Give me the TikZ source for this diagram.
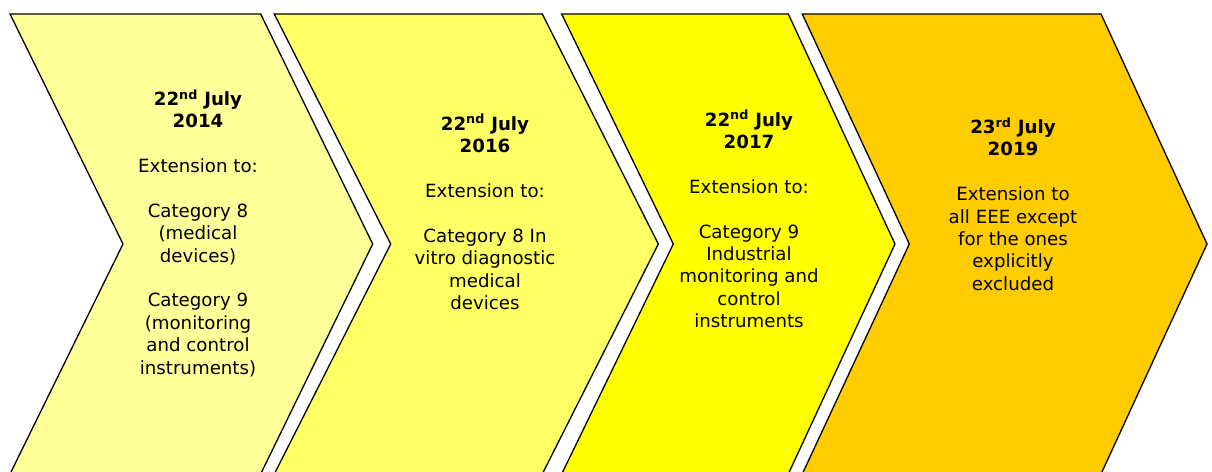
\documentclass[tikz,border=0pt]{standalone}
\usepackage{fontspec}
\setmainfont{DejaVu Sans}
\definecolor{c1}{HTML}{FFFF99}
\definecolor{c2}{HTML}{FFFF66}
\definecolor{c3}{HTML}{FFFF00}
\definecolor{c4}{HTML}{FFCC00}
\tikzset{
  chev/.style={draw=black, line width=1.3pt, line join=miter},
  lbl/.style={align=center, inner sep=0pt, text=black,
    font=\fontsize{18.2}{22.4}\selectfont}
}
\begin{document}
\begin{tikzpicture}[x=1pt,y=-1pt]
\useasboundingbox (0,0) rectangle (1212,471);
\fill[white] (0,0) rectangle (1212,471);
% chevrons
\draw[chev, fill=c1] (10,14) -- (260.7,14) -- (372.7,244) -- (260.7,474) -- (10,474) -- (123,244) -- cycle;
\draw[chev, fill=c2] (274.3,14) -- (542.3,14) -- (658.3,244) -- (542.3,474) -- (274.3,474) -- (390.7,244) -- cycle;
\draw[chev, fill=c3] (561.7,14) -- (788.3,14) -- (895,244) -- (788.3,474) -- (561.7,474) -- (673.3,244) -- cycle;
\draw[chev, fill=c4] (802.3,14) -- (1101,14) -- (1207,244) -- (1101,474) -- (802.3,474) -- (909.3,244) -- cycle;
% texts
\node[lbl] (t1) at (198,233) {\textbf{22\textsuperscript{nd} July}\\\textbf{2014}\\[22.4pt]Extension to:\\[22.4pt]Category 8\\(medical\\devices)\\[22.4pt]Category 9\\(monitoring\\and control\\instruments)};
\node[lbl] (t2) at (485,212) {\textbf{22\textsuperscript{nd} July}\\\textbf{2016}\\[22.4pt]Extension to:\\[22.4pt]Category 8 In\\vitro diagnostic\\medical\\devices};
\node[lbl] (t3) at (749,219) {\textbf{22\textsuperscript{nd} July}\\\textbf{2017}\\[22.4pt]Extension to:\\[22.4pt]Category 9\\Industrial\\monitoring and\\control\\instruments};
\node[lbl] (t4) at (1013,204) {\textbf{23\textsuperscript{rd} July}\\\textbf{2019}\\[22.4pt]Extension to\\all EEE except\\for the ones\\explicitly\\excluded};
\end{tikzpicture}
\end{document}
